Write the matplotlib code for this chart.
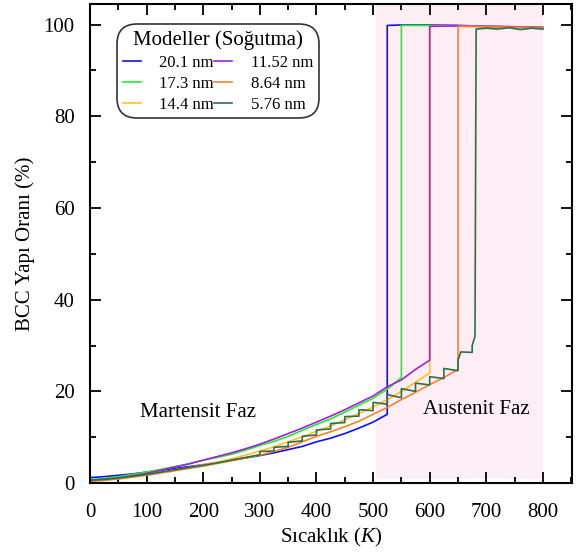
import numpy as np
import matplotlib
matplotlib.use('Agg')
import matplotlib.pyplot as plt

plt.rcParams['font.family'] = ['Liberation Serif', 'DejaVu Serif']
plt.rcParams['mathtext.fontset'] = 'custom'
plt.rcParams['mathtext.it'] = 'Liberation Serif:italic'

# sıcaklık (K) ve BCC oranı (%) - soğutma modelleri
t_201 = [0, 25, 50, 75, 100, 125, 150, 175, 200, 225, 250, 275, 300, 325, 350, 375, 400,
         425, 450, 475, 500, 525, 525, 550, 600, 650, 700, 750, 800]
y_201 = [1.2, 1.4, 1.7, 2.0, 2.4, 2.8, 3.2, 3.6, 4.0, 4.5, 5.0, 5.5, 6.0, 6.6, 7.3, 8.0, 9.0,
         9.8, 10.8, 12.0, 13.3, 15.0, 99.8, 99.9, 99.9, 99.8, 99.6, 99.5, 99.4]

t_173 = [0, 25, 50, 75, 100, 125, 150, 175, 200, 225, 250, 275, 300, 325, 350, 375, 400,
         425, 450, 475, 500, 525, 550, 550, 600, 650, 700, 750, 800]
y_173 = [0.8, 1.0, 1.4, 1.9, 2.4, 3.0, 3.6, 4.2, 5.0, 5.6, 6.3, 7.2, 8.2, 9.1, 10.2, 11.5, 12.8,
         14.0, 15.5, 17.0, 18.5, 20.5, 23.0, 99.8, 99.8, 99.7, 99.6, 99.4, 99.3]

t_144 = [0, 25, 50, 75, 100, 125, 150, 175, 200, 225, 250, 275, 300, 325, 350, 375, 400,
         425, 450, 475, 500, 525, 550, 575, 600, 600, 650, 700, 750, 800]
y_144 = [0.5, 0.7, 1.0, 1.4, 1.9, 2.4, 2.9, 3.4, 4.0, 4.6, 5.3, 6.1, 7.0, 7.9, 9.0, 10.1, 11.3,
         12.5, 13.8, 15.2, 16.6, 18.2, 20.0, 22.0, 24.0, 99.7, 99.7, 99.6, 99.4, 99.3]

t_1152 = [0, 25, 50, 75, 100, 125, 150, 175, 200, 225, 250, 275, 300, 325, 350, 375, 400,
          425, 450, 475, 500, 525, 550, 575, 600, 600, 650, 700, 750, 800]
y_1152 = [0.6, 0.8, 1.1, 1.6, 2.1, 2.8, 3.5, 4.2, 5.0, 5.8, 6.6, 7.5, 8.5, 9.6, 10.8, 12.0, 13.3,
          14.6, 16.0, 17.5, 19.0, 21.0, 22.5, 24.8, 26.8, 99.6, 99.7, 99.6, 99.5, 99.3]

t_864 = [0, 25, 50, 75, 100, 125, 150, 175, 200, 225, 250, 275, 300, 325, 350, 375, 400,
         425, 450, 475, 500, 525, 550, 575, 600, 625, 650, 650, 700, 750, 800]
y_864 = [0.4, 0.6, 0.9, 1.3, 1.7, 2.2, 2.7, 3.2, 3.7, 4.3, 4.9, 5.5, 6.1, 6.9, 7.8, 9.0, 10.2,
         11.2, 12.3, 13.5, 15.0, 16.5, 18.2, 19.8, 21.5, 23.0, 24.8, 99.6, 99.5, 99.4, 99.3]

t_576 = [0, 25, 50, 75, 100, 125, 150, 175, 200, 225, 250, 275, 300, 300, 325, 325, 350, 350,
         375, 375, 400, 400, 425, 425, 450, 450, 475, 475, 500, 500, 525, 525, 550, 550,
         575, 575, 600, 600, 625, 625, 650, 650, 655, 675, 675, 680, 682, 700, 720, 740, 760, 780, 800]
y_576 = [0.6, 0.8, 1.1, 1.5, 1.9, 2.4, 2.9, 3.4, 3.9, 4.4, 5.0, 5.6, 6.2, 6.9, 7.0, 7.8, 8.0, 8.9,
         9.2, 10.2, 10.5, 11.6, 11.8, 13.0, 13.2, 14.5, 14.6, 16.0, 15.8, 17.6, 17.2, 19.3, 18.6, 20.6,
         20.0, 21.8, 21.4, 23.2, 22.8, 25.0, 24.5, 26.8, 28.6, 28.5, 30.0, 32.0, 99.0, 99.2, 99.0, 99.3, 98.9, 99.2, 99.0]

series = [
    (t_201, y_201, '20.1 nm', '#1010ee'),
    (t_173, y_173, '17.3 nm', '#22ee22'),
    (t_144, y_144, '14.4 nm', '#ffc125'),
    (t_1152, y_1152, '11.52 nm', '#a020e0'),
    (t_864, y_864, '8.64 nm', '#ff7f2a'),
    (t_576, y_576, '5.76 nm', '#2e6e4c'),
]

fig = plt.figure(figsize=(5.77, 5.54), dpi=100)
ax = fig.add_axes([0.156, 0.128, 0.835, 0.865])

# ostenit bölgesi
ax.axvspan(505, 800, ymin=0.008, ymax=1, color='#fdedf4', lw=0, zorder=0)

for t, y, lab, c in series:
    ax.plot(t, y, color=c, lw=1.2, label=lab, zorder=2)

ax.set_xlim(0, 851)
ax.set_ylim(0, 104.5)
ax.set_xticks(np.arange(0, 801, 100))
ax.set_xticks(np.arange(50, 851, 100), minor=True)
ax.set_yticks(np.arange(0, 101, 20))
ax.set_yticks(np.arange(10, 101, 20), minor=True)
ax.tick_params(which='both', direction='in', top=True, right=True, labelsize=15, width=1.3, pad=11)
ax.tick_params(axis='x', which='both', pad=14)
ax.tick_params(which='major', length=8)
ax.tick_params(which='minor', length=4)
for s in ax.spines.values():
    s.set_linewidth(1.5)

ax.set_xlabel('Sıcaklık ($\\it{K}$)', fontsize=15, labelpad=3)
ax.set_ylabel('BCC Yapı Oranı (%)', fontsize=15, labelpad=6)

ax.text(190, 15.5, 'Martensit Faz', fontsize=15, ha='center', va='center')
ax.text(683, 16, 'Austenit Faz', fontsize=15, ha='center', va='center')

leg = ax.legend(title='Modeller (Soğutma)', ncol=2, loc='upper left', bbox_to_anchor=(0.042, 0.972),
                fontsize=12, title_fontsize=15, frameon=True, fancybox=True, edgecolor='black',
                handlelength=1.1, handletextpad=1.1, columnspacing=0.0, borderpad=0.25,
                labelspacing=0.3)
leg.get_frame().set_linewidth(1.2)
leg.get_frame().set_boxstyle('round,pad=0.1,rounding_size=1.2')

fig.savefig('out.png', dpi=100)
